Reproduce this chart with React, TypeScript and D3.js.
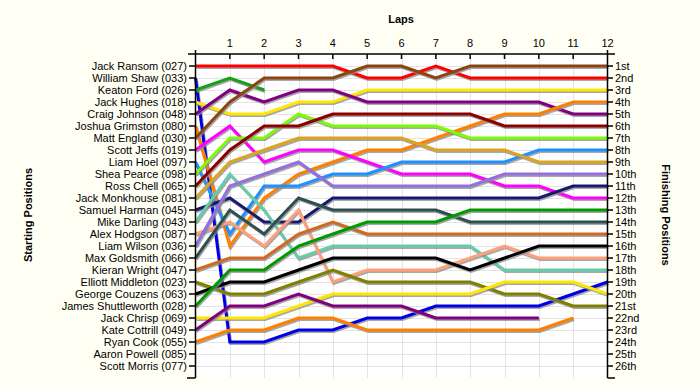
import { useEffect, useRef } from 'react'
import * as d3 from 'd3'

// starting grid, top to bottom
const drivers = [
  'Jack Ransom (027)', 'William Shaw (033)', 'Keaton Ford (026)', 'Jack Hughes (018)',
  'Craig Johnson (048)', 'Joshua Grimston (080)', 'Matt England (030)', 'Scott Jeffs (019)',
  'Liam Hoel (097)', 'Shea Pearce (098)', 'Ross Chell (065)', 'Jack Monkhouse (081)',
  'Samuel Harman (045)', 'Mike Darling (043)', 'Alex Hodgson (087)', 'Liam Wilson (036)',
  'Max Goldsmith (066)', 'Kieran Wright (047)', 'Elliott Middleton (023)', 'George Couzens (063)',
  'James Shuttleworth (028)', 'Jack Chrisp (069)', 'Kate Cottrill (049)', 'Ryan Cook (055)',
  'Aaron Powell (085)', 'Scott Morris (077)',
]

const driverColors = [
  '#ff0000', '#0000e6', '#16a016', '#ffe600', '#800080', '#ff8000', '#8b4513', '#ff00ff',
  '#1e90ff', '#7cfc00', '#8b0000', '#daa520', '#191970', '#66cdaa', '#ffa07a', '#9370db',
  '#2f4f4f', '#d2691e', '#808000', '#000000', '#009900', '#ffe600', '#800080', '#ff8000',
  '#999999', '#999999',
]

// position at lap 0..n (lap 0 = grid slot); shorter rows = retired, empty = did not start
const lapPositions: number[][] = [
  [1, 1, 1, 1, 1, 2, 2, 1, 2, 2, 2, 2, 2],
  [2, 24, 24, 23, 23, 22, 22, 21, 21, 21, 21, 20, 19],
  [3, 2, 3],
  [4, 5, 5, 4, 4, 3, 3, 3, 3, 3, 3, 3, 3],
  [5, 3, 4, 3, 3, 4, 4, 4, 4, 4, 4, 5, 5],
  [6, 16, 12, 10, 9, 8, 8, 7, 6, 5, 5, 4, 4],
  [7, 4, 2, 2, 2, 1, 1, 2, 1, 1, 1, 1, 1],
  [8, 6, 9, 8, 8, 9, 10, 10, 10, 11, 11, 12, 12],
  [9, 15, 11, 11, 10, 10, 9, 9, 9, 9, 8, 8, 8],
  [10, 7, 7, 5, 6, 6, 6, 6, 7, 7, 7, 7, 7],
  [11, 8, 6, 6, 5, 5, 5, 5, 5, 6, 6, 6, 6],
  [12, 9, 8, 7, 7, 7, 7, 8, 8, 8, 9, 9, 9],
  [13, 12, 14, 14, 12, 12, 12, 12, 12, 12, 12, 11, 11],
  [14, 10, 13, 17, 16, 16, 16, 16, 16, 18, 18, 18, 18],
  [15, 14, 16, 13, 19, 18, 18, 18, 17, 16, 17, 17, 17],
  [16, 11, 10, 9, 11, 11, 11, 11, 11, 10, 10, 10, 10],
  [17, 13, 15, 12, 13, 13, 13, 13, 14, 14, 14, 14, 14],
  [18, 17, 17, 15, 14, 15, 15, 15, 15, 15, 15, 15, 15],
  [19, 20, 20, 19, 18, 19, 19, 19, 19, 20, 20, 21, 21],
  [20, 19, 19, 18, 17, 17, 17, 17, 18, 17, 16, 16, 16],
  [21, 18, 18, 16, 15, 14, 14, 14, 13, 13, 13, 13, 13],
  [22, 22, 22, 21, 20, 20, 20, 20, 20, 19, 19, 19, 20],
  [23, 21, 21, 20, 21, 21, 21, 22, 22, 22, 22],
  [24, 23, 23, 22, 22, 23, 23, 23, 23, 23, 23, 22],
  [],
  [],
]

const lapLabels = ['1', '2', '3', '4', '5', '6', '7', '8', '9', '10', '11', '12']
const finishLabels = [
  '1st', '2nd', '3rd', '4th', '5th', '6th', '7th', '8th', '9th', '10th', '11th', '12th', '13th',
  '14th', '15th', '16th', '17th', '18th', '19th', '20th', '21st', '22nd', '23rd', '24th', '25th', '26th',
]

export default function App() {
  const svgRef = useRef<SVGSVGElement>(null)

  useEffect(() => {
    if (!svgRef.current) return
    const svg = d3.select(svgRef.current)
    svg.selectAll('*').remove()

    const font = '"Liberation Sans", Arial, sans-serif'
    const x = d3.scaleLinear().domain([0, 12]).range([195.5, 607.5])
    const y = d3.scaleLinear().domain([0, 27]).range([54, 378])
    const rows = d3.range(1, 27)

    svg.append('rect').attr('width', 700).attr('height', 390).attr('fill', '#fffff4')
    svg.append('rect')
      .attr('x', x(0)).attr('y', y(0))
      .attr('width', x(12) - x(0)).attr('height', y(27) - y(0))
      .attr('fill', '#ffffff')

    // grid
    const grid = svg.append('g').attr('stroke', '#e4e4e4').attr('stroke-width', 1)
    grid.selectAll('line.h').data(rows).join('line')
      .attr('x1', x(0)).attr('x2', x(12))
      .attr('y1', d => y(d) + 0.5).attr('y2', d => y(d) + 0.5)
    grid.selectAll('line.v').data(d3.range(1, 12)).join('line')
      .attr('y1', y(0)).attr('y2', y(27))
      .attr('x1', d => Math.round(x(d)) + 0.5).attr('x2', d => Math.round(x(d)) + 0.5)

    // lines
    const line = d3.line<number>().x((_, i) => x(i)).y(d => y(d))
    const lines = svg.append('g').attr('fill', 'none').attr('stroke-width', 3)
    lapPositions.forEach((pos, i) => {
      if (pos.length < 2) return
      lines.append('path')
        .attr('d', line(pos))
        .attr('stroke', '#8a8a8a')
        .attr('stroke-opacity', 0.75)
        .attr('transform', 'translate(1,1.5)')
      lines.append('path')
        .attr('d', line(pos))
        .attr('stroke', driverColors[i])
    })

    // axes
    const ax = svg.append('g').attr('stroke', '#000').attr('stroke-width', 1.5)
    ax.append('line').attr('x1', 188).attr('x2', 615).attr('y1', y(0)).attr('y2', y(0))
    ax.append('line').attr('x1', x(0)).attr('x2', x(0)).attr('y1', 50).attr('y2', y(27))
    ax.append('line').attr('x1', x(12)).attr('x2', x(12)).attr('y1', 50).attr('y2', y(27))
    ax.selectAll('line.lt').data(d3.range(1, 28)).join('line')
      .attr('x1', d => (d === 27 ? 187 : 189)).attr('x2', x(0))
      .attr('y1', d => y(d)).attr('y2', d => y(d))
    ax.selectAll('line.rt').data(d3.range(1, 28)).join('line')
      .attr('x1', x(12)).attr('x2', d => (d === 27 ? 615 : 613))
      .attr('y1', d => y(d)).attr('y2', d => y(d))
    ax.selectAll('line.tt').data(d3.range(1, 12)).join('line')
      .attr('x1', d => x(d)).attr('x2', d => x(d))
      .attr('y1', y(0)).attr('y2', y(0) + 5)

    svg.append('g').selectAll('text').data(lapLabels).join('text')
      .attr('x', (_, i) => x(i + 1)).attr('y', 47)
      .attr('text-anchor', 'middle')
      .attr('font-family', font).attr('font-size', 11)
      .text(d => d)

    svg.append('g').selectAll('text').data(drivers).join('text')
      .attr('x', 187).attr('y', (_, i) => y(i + 1))
      .attr('dy', '0.36em')
      .attr('text-anchor', 'end')
      .attr('font-family', font).attr('font-size', 11)
      .text(d => d)

    svg.append('g').selectAll('text').data(finishLabels).join('text')
      .attr('x', 615).attr('y', (_, i) => y(i + 1))
      .attr('dy', '0.36em')
      .attr('font-family', font).attr('font-size', 11)
      .text(d => d)

    svg.append('text')
      .attr('x', 401).attr('y', 23)
      .attr('text-anchor', 'middle')
      .attr('font-family', font).attr('font-size', 11).attr('font-weight', 'bold')
      .text('Laps')

    svg.append('text')
      .attr('transform', 'translate(32,215) rotate(-90)')
      .attr('text-anchor', 'middle')
      .attr('font-family', font).attr('font-size', 11).attr('font-weight', 'bold')
      .text('Starting Positions')

    svg.append('text')
      .attr('transform', 'translate(662,215) rotate(90)')
      .attr('text-anchor', 'middle')
      .attr('font-family', font).attr('font-size', 11).attr('font-weight', 'bold')
      .text('Finishing Positions')
  }, [])

  return (
    <svg
      ref={svgRef}
      width={700}
      height={390}
      style={{ position: 'absolute', left: 0, top: 0, display: 'block' }}
    />
  )
}
